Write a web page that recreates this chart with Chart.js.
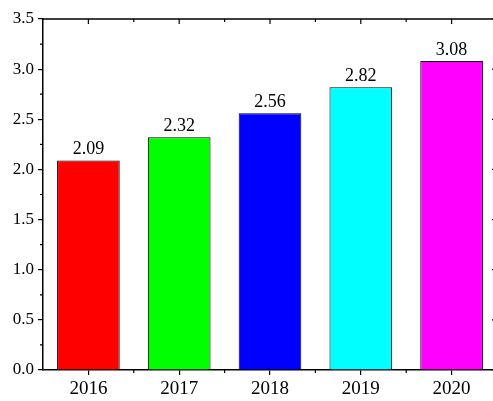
<!DOCTYPE html>
<html>
<head>
<meta charset="utf-8">
<script src="https://cdn.jsdelivr.net/npm/chart.js@4.4.1/dist/chart.umd.min.js"></script>
<style>
  html, body { margin: 0; padding: 0; background: #fff; overflow: hidden; }
  #wrap { width: 493px; height: 401px; overflow: hidden; }
</style>
</head>
<body>
<div id="wrap"><canvas id="barChart" width="505" height="401"></canvas></div>
<script>
var years = ['2016', '2017', '2018', '2019', '2020'];
var values = [2.09, 2.32, 2.56, 2.82, 3.08];
var barColors = ['#ff0000', '#00ff00', '#0000ff', '#00ffff', '#ff00ff'];
var yTicks = [0, 0.5, 1.0, 1.5, 2.0, 2.5, 3.0, 3.5];

var serif = '"Liberation Serif", "Times New Roman", serif';

// frame, mirror ticks, minor ticks
var framePlugin = {
    id: 'frame',
    afterDraw: function (chart) {
        var ctx = chart.ctx;
        var a = chart.chartArea;
        var x = chart.scales.x;
        var y = chart.scales.y;
        ctx.save();
        ctx.strokeStyle = '#000';
        ctx.lineWidth = 1.5;
        ctx.beginPath();
        ctx.moveTo(a.left, a.top);
        ctx.lineTo(a.right, a.top);
        ctx.lineTo(a.right, a.bottom);
        ctx.stroke();

        ctx.lineWidth = 1.2;
        ctx.beginPath();
        // x ticks on top (inward) + minor ones top/bottom
        for (var i = 0; i < years.length; i++) {
            var px = x.getPixelForValue(i);
            ctx.moveTo(px, a.top);
            ctx.lineTo(px, a.top + 5);
            if (i < years.length - 1) {
                var mx = (px + x.getPixelForValue(i + 1)) / 2;
                ctx.moveTo(mx, a.top);
                ctx.lineTo(mx, a.top + 3);
                ctx.moveTo(mx, a.bottom);
                ctx.lineTo(mx, a.bottom + 3);
            }
        }
        // y ticks on right (inward) + minor left
        for (var v = 0; v <= 3.5001; v += 0.25) {
            var py = y.getPixelForValue(v);
            var major = Math.abs(v * 2 - Math.round(v * 2)) < 0.01;
            ctx.moveTo(a.right, py);
            ctx.lineTo(a.right - (major ? 5 : 3), py);
            if (!major) {
                ctx.moveTo(a.left, py);
                ctx.lineTo(a.left - 3, py);
            }
        }
        ctx.stroke();

        // value labels above bars
        var meta = chart.getDatasetMeta(0);
        ctx.fillStyle = '#000';
        ctx.font = '18px ' + serif;
        ctx.textAlign = 'center';
        ctx.textBaseline = 'alphabetic';
        meta.data.forEach(function (bar, idx) {
            ctx.fillText(values[idx].toFixed(2), bar.x, bar.y - 6);
        });
        ctx.restore();
    }
};

var ctx = document.getElementById('barChart').getContext('2d');
var barChart = new Chart(ctx, {
    type: 'bar',
    data: {
        labels: years,
        datasets: [{
            data: values,
            backgroundColor: barColors,
            borderColor: '#000',
            borderWidth: 1,
            barPercentage: 0.69,
            categoryPercentage: 1.0
        }]
    },
    options: {
        responsive: false,
        animation: false,
        devicePixelRatio: 1,
        layout: { padding: { top: 19, right: 8, left: 0, bottom: 0 } },
        plugins: {
            legend: { display: false },
            tooltip: { enabled: false }
        },
        scales: {
            x: {
                offset: true,
                grid: { display: true, offset: false, drawOnChartArea: false, tickLength: 5, color: '#000', lineWidth: 1.2 },
                border: { display: true, color: '#000', width: 1.5 },
                ticks: { color: '#000', font: { family: serif, size: 19 }, padding: 3, maxRotation: 0 },
                afterFit: function (scale) { scale.height = 31; }
            },
            y: {
                min: 0,
                max: 3.5,
                afterBuildTicks: function (scale) {
                    scale.ticks = yTicks.map(function (v) { return { value: v }; });
                },
                grid: { display: true, drawOnChartArea: false, tickLength: 5, color: '#000', lineWidth: 1.2 },
                border: { display: true, color: '#000', width: 1.5 },
                ticks: {
                    color: '#000',
                    font: { family: serif, size: 17 },
                    padding: 4,
                    callback: function (v) { return Number(v).toFixed(1); }
                },
                afterFit: function (scale) { scale.width = 43; }
            }
        }
    },
    plugins: [framePlugin]
});
</script>
</body>
</html>
